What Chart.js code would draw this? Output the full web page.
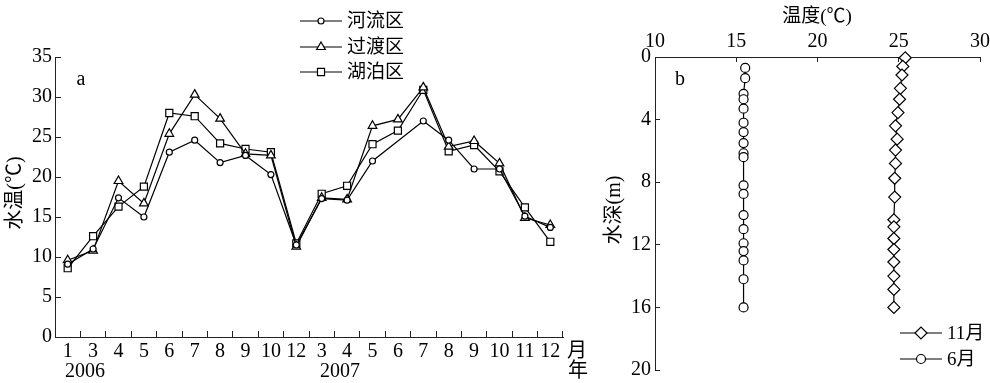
<!DOCTYPE html>
<html>
<head>
<meta charset="utf-8">
<script src="https://cdn.jsdelivr.net/npm/chart.js@4/dist/chart.umd.min.js"></script>
<style>
  body { margin: 0; background: #fff; }
  #wrap { position: relative; width: 990px; height: 383px; }
  #left { position: absolute; left: 0; top: 0; }
  #right { position: absolute; left: 600px; top: 0; }
</style>
</head>
<body>
<div id="wrap">
  <canvas id="left" width="600" height="383"></canvas>
  <canvas id="right" width="390" height="383"></canvas>
</div>
<script>
// --- panel a: monthly water temperature ---
const months = ['1', '3', '4', '5', '6', '7', '8', '9', '10', '12',
                '3', '4', '5', '6', '7', '8', '9', '10', '11', '12'];
const river      = [9.1, 11.0, 17.4, 15.0, 23.1, 24.6, 21.8, 22.7, 20.3, 11.5,
                    17.3, 17.1, 22.0, null, 27.0, 24.6, 21.0, 21.0, 15.1, 13.7];
const transition = [9.6, 10.8, 19.5, 16.7, 25.4, 30.3, 27.3, 22.9, 22.7, 11.3,
                    17.4, 17.2, 26.4, 27.2, 31.2, 23.8, 24.5, 21.7, 14.9, 14.0];
const lake       = [8.6, 12.6, 16.3, 18.8, 28.0, 27.6, 24.2, 23.5, 23.1, 11.7,
                    17.9, 18.9, 24.1, 25.8, 30.9, 23.2, 24.0, 20.7, 16.2, 11.9];

// --- panel b: temperature profile (depth m, temperature C) ---
const juneDepth = [0.7, 1.35, 2.35, 2.7, 3.3, 4.2, 4.8, 5.5, 6.15, 6.4,
                   8.2, 8.75, 10.1, 11.0, 11.9, 12.4, 13.0, 14.2, 16.0];
const juneTemp  = [15.55, 15.55, 15.45, 15.45, 15.45, 15.45, 15.45, 15.45, 15.45, 15.45,
                   15.45, 15.45, 15.45, 15.45, 15.45, 15.45, 15.45, 15.45, 15.45];
const novDepth  = [0.05, 0.6, 1.15, 2.0, 2.7, 3.55, 4.4, 5.25, 5.95, 6.8,
                   7.75, 8.95, 10.4, 10.85, 11.6, 12.3, 13.1, 14.0, 14.85, 16.0];
const novTemp   = [25.4, 25.25, 25.2, 25.1, 25.05, 24.95, 24.8, 24.9, 24.8, 24.8,
                   24.75, 24.75, 24.7, 24.7, 24.7, 24.7, 24.7, 24.7, 24.7, 24.7];

const FONT = '"Liberation Serif", "Noto Sans CJK SC", serif';
const AXIS = '#222';
const TICK_SIZE = 20;

// free text drawn on top (titles, panel letters, years)
function textPlugin(items) {
  return {
    id: 'texts',
    afterDraw(chart) {
      const c = chart.ctx;
      items.forEach(t => {
        c.save();
        c.fillStyle = '#000';
        c.font = t.size + 'px ' + FONT;
        c.textAlign = t.align || 'center';
        c.textBaseline = 'middle';
        c.translate(t.x, t.y);
        if (t.rot) c.rotate(t.rot);
        c.fillText(t.text, 0, 0);
        c.restore();
      });
    }
  };
}

// legend with a line through the marker, like the printed figure
function lineLegend(rows) {
  return {
    id: 'lineLegend',
    afterDraw(chart) {
      const c = chart.ctx;
      rows.forEach(r => {
        const ds = chart.data.datasets[r.index];
        c.save();
        c.strokeStyle = '#000';
        c.lineWidth = 1.2;
        c.beginPath();
        c.moveTo(r.x0, r.y);
        c.lineTo(r.x1, r.y);
        c.stroke();
        c.fillStyle = '#fff';
        Chart.helpers.drawPoint(c, {
          pointStyle: ds.pointStyle, radius: ds.pointRadius, borderWidth: 1.2
        }, (r.x0 + r.x1) / 2, r.y);
        c.fillStyle = '#000';
        c.font = r.size + 'px ' + FONT;
        c.textAlign = 'left';
        c.textBaseline = 'middle';
        c.fillText(ds.label, r.x1 + 5, r.y + 1);
        c.restore();
      });
    }
  };
}

function series(label, data, style, radius) {
  return {
    label: label,
    data: data,
    borderColor: '#000',
    borderWidth: 1.2,
    pointStyle: style,
    pointRadius: radius,
    pointBackgroundColor: '#fff',
    pointBorderColor: '#000',
    pointBorderWidth: 1.2,
    tension: 0,
    clip: false
  };
}

// fixed axis box; drop the label overhang so the plot area stays where we put it
function fixBox(w, h) {
  return function (s) {
    if (w !== null) s.width = w;
    if (h !== null) s.height = h;
    s.paddingLeft = s.paddingRight = s.paddingTop = s.paddingBottom = 0;
  };
}

new Chart(document.getElementById('left'), {
  type: 'line',
  data: {
    labels: months,
    datasets: [
      series('河流区', river, 'circle', 3),
      series('过渡区', transition, 'triangle', 5),
      series('湖泊区', lake, 'rect', 5)
    ]
  },
  options: {
    responsive: false,
    animation: false,
    devicePixelRatio: 1,
    spanGaps: true,
    layout: { padding: { top: 57, right: 37, left: 0, bottom: 0 } },
    plugins: { legend: { display: false }, tooltip: { enabled: false } },
    scales: {
      x: {
        type: 'category',
        offset: true,
        grid: { offset: true, drawOnChartArea: false, tickLength: -6, color: AXIS },
        border: { color: AXIS, width: 1 },
        ticks: { autoSkip: false, maxRotation: 0, color: '#000', padding: 9,
                 font: { family: FONT, size: TICK_SIZE } },
        afterFit: fixBox(null, 46)
      },
      y: {
        min: 0,
        max: 35,
        grid: { drawOnChartArea: false, tickLength: -6, color: AXIS },
        border: { color: AXIS, width: 1 },
        ticks: { stepSize: 5, color: '#000', padding: 9,
                 font: { family: FONT, size: TICK_SIZE } },
        afterFit: fixBox(55, null)
      }
    }
  },
  plugins: [
    textPlugin([
      { text: 'a', x: 81, y: 80, size: 20 },
      { text: '水温(℃)', x: 16, y: 193, size: 20, rot: -Math.PI / 2 },
      { text: '2006', x: 85, y: 372, size: 20 },
      { text: '2007', x: 340, y: 372, size: 20 },
      { text: '月', x: 577, y: 352, size: 20 },
      { text: '年', x: 578, y: 372, size: 20 }
    ]),
    lineLegend([
      { index: 0, x0: 300, x1: 342, y: 21, size: 19 },
      { index: 1, x0: 300, x1: 342, y: 47, size: 19 },
      { index: 2, x0: 300, x1: 342, y: 72, size: 19 }
    ])
  ]
});

function profile(depth, temp) {
  return depth.map((d, i) => ({ x: temp[i], y: d }));
}

new Chart(document.getElementById('right'), {
  type: 'scatter',
  data: {
    datasets: [
      Object.assign(series('11月', profile(novDepth, novTemp), 'rectRot', 6), { showLine: true }),
      Object.assign(series('6月', profile(juneDepth, juneTemp), 'circle', 4.5), { showLine: true })
    ]
  },
  options: {
    responsive: false,
    animation: false,
    devicePixelRatio: 1,
    layout: { padding: { top: 0, right: 10, left: 0, bottom: 13 } },
    plugins: { legend: { display: false }, tooltip: { enabled: false } },
    scales: {
      x: {
        type: 'linear',
        position: 'top',
        min: 10,
        max: 30,
        grid: { drawOnChartArea: false, tickLength: -5, color: AXIS },
        border: { color: AXIS, width: 1 },
        ticks: { stepSize: 5, color: '#000', padding: 8,
                 font: { family: FONT, size: TICK_SIZE } },
        afterFit: fixBox(null, 57)
      },
      y: {
        type: 'linear',
        reverse: true,
        min: 0,
        max: 20,
        grid: { drawOnChartArea: false, tickLength: -5, color: AXIS },
        border: { color: AXIS, width: 1 },
        ticks: { stepSize: 4, color: '#000', padding: 9,
                 font: { family: FONT, size: TICK_SIZE } },
        afterFit: fixBox(55, null)
      }
    }
  },
  plugins: [
    textPlugin([
      { text: '温度(℃)', x: 217, y: 17, size: 19 },
      { text: 'b', x: 80, y: 80, size: 20 },
      { text: '水深(m)', x: 15, y: 210, size: 20, rot: -Math.PI / 2 }
    ]),
    lineLegend([
      { index: 0, x0: 300, x1: 342, y: 333, size: 19 },
      { index: 1, x0: 300, x1: 342, y: 359, size: 19 }
    ])
  ]
});
</script>
</body>
</html>
